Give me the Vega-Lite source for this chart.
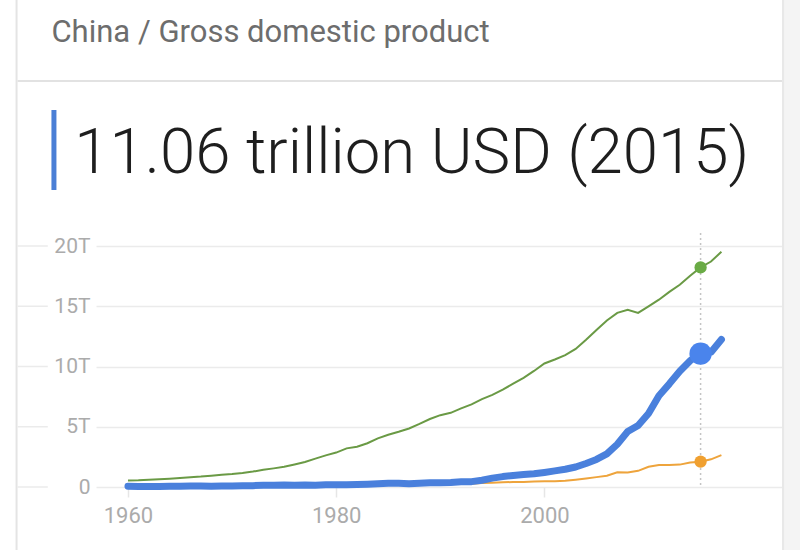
{
  "$schema": "https://vega.github.io/schema/vega-lite/v6.json",
  "width": 686,
  "height": 254,
  "autosize": {"type": "none"},
  "padding": {"left": 96, "top": 233, "right": 18, "bottom": 63},
  "background": "#ffffff",
  "config": {"view": {"stroke": null}, "font": "Roboto"},
  "datasets": {
    "us": [
      {"year":1960,"gdp":0.543},{"year":1961,"gdp":0.563},{"year":1962,"gdp":0.605},{"year":1963,"gdp":0.638},{"year":1964,"gdp":0.686},{"year":1965,"gdp":0.744},{"year":1966,"gdp":0.815},{"year":1967,"gdp":0.862},{"year":1968,"gdp":0.943},{"year":1969,"gdp":1.019},
      {"year":1970,"gdp":1.073},{"year":1971,"gdp":1.165},{"year":1972,"gdp":1.280},{"year":1973,"gdp":1.425},{"year":1974,"gdp":1.545},{"year":1975,"gdp":1.684},{"year":1976,"gdp":1.873},{"year":1977,"gdp":2.082},{"year":1978,"gdp":2.352},{"year":1979,"gdp":2.627},
      {"year":1980,"gdp":2.857},{"year":1981,"gdp":3.207},{"year":1982,"gdp":3.343},{"year":1983,"gdp":3.634},{"year":1984,"gdp":4.037},{"year":1985,"gdp":4.339},{"year":1986,"gdp":4.579},{"year":1987,"gdp":4.855},{"year":1988,"gdp":5.236},{"year":1989,"gdp":5.641},
      {"year":1990,"gdp":5.963},{"year":1991,"gdp":6.158},{"year":1992,"gdp":6.520},{"year":1993,"gdp":6.859},{"year":1994,"gdp":7.287},{"year":1995,"gdp":7.640},{"year":1996,"gdp":8.073},{"year":1997,"gdp":8.578},{"year":1998,"gdp":9.063},{"year":1999,"gdp":9.631},
      {"year":2000,"gdp":10.252},{"year":2001,"gdp":10.582},{"year":2002,"gdp":10.936},{"year":2003,"gdp":11.458},{"year":2004,"gdp":12.214},{"year":2005,"gdp":13.037},{"year":2006,"gdp":13.815},{"year":2007,"gdp":14.452},{"year":2008,"gdp":14.713},{"year":2009,"gdp":14.449},
      {"year":2010,"gdp":14.992},{"year":2011,"gdp":15.543},{"year":2012,"gdp":16.197},{"year":2013,"gdp":16.785},{"year":2014,"gdp":17.527},{"year":2015,"gdp":18.224},{"year":2016,"gdp":18.715},{"year":2017,"gdp":19.519}
    ],
    "china": [
      {"year":1960,"gdp":0.060},{"year":1961,"gdp":0.050},{"year":1962,"gdp":0.047},{"year":1963,"gdp":0.051},{"year":1964,"gdp":0.060},{"year":1965,"gdp":0.070},{"year":1966,"gdp":0.077},{"year":1967,"gdp":0.073},{"year":1968,"gdp":0.071},{"year":1969,"gdp":0.080},
      {"year":1970,"gdp":0.093},{"year":1971,"gdp":0.100},{"year":1972,"gdp":0.114},{"year":1973,"gdp":0.139},{"year":1974,"gdp":0.144},{"year":1975,"gdp":0.163},{"year":1976,"gdp":0.154},{"year":1977,"gdp":0.175},{"year":1978,"gdp":0.150},{"year":1979,"gdp":0.178},
      {"year":1980,"gdp":0.191},{"year":1981,"gdp":0.196},{"year":1982,"gdp":0.205},{"year":1983,"gdp":0.230},{"year":1984,"gdp":0.260},{"year":1985,"gdp":0.309},{"year":1986,"gdp":0.301},{"year":1987,"gdp":0.273},{"year":1988,"gdp":0.312},{"year":1989,"gdp":0.348},
      {"year":1990,"gdp":0.361},{"year":1991,"gdp":0.383},{"year":1992,"gdp":0.427},{"year":1993,"gdp":0.445},{"year":1994,"gdp":0.564},{"year":1995,"gdp":0.735},{"year":1996,"gdp":0.864},{"year":1997,"gdp":0.962},{"year":1998,"gdp":1.029},{"year":1999,"gdp":1.094},
      {"year":2000,"gdp":1.211},{"year":2001,"gdp":1.339},{"year":2002,"gdp":1.471},{"year":2003,"gdp":1.660},{"year":2004,"gdp":1.955},{"year":2005,"gdp":2.286},{"year":2006,"gdp":2.752},{"year":2007,"gdp":3.552},{"year":2008,"gdp":4.598},{"year":2009,"gdp":5.110},
      {"year":2010,"gdp":6.101},{"year":2011,"gdp":7.573},{"year":2012,"gdp":8.561},{"year":2013,"gdp":9.607},{"year":2014,"gdp":10.482},{"year":2015,"gdp":11.065},{"year":2016,"gdp":11.191},{"year":2017,"gdp":12.238}
    ],
    "india": [
      {"year":1960,"gdp":0.037},{"year":1961,"gdp":0.039},{"year":1962,"gdp":0.042},{"year":1963,"gdp":0.048},{"year":1964,"gdp":0.056},{"year":1965,"gdp":0.059},{"year":1966,"gdp":0.045},{"year":1967,"gdp":0.050},{"year":1968,"gdp":0.053},{"year":1969,"gdp":0.058},
      {"year":1970,"gdp":0.062},{"year":1971,"gdp":0.067},{"year":1972,"gdp":0.071},{"year":1973,"gdp":0.085},{"year":1974,"gdp":0.099},{"year":1975,"gdp":0.098},{"year":1976,"gdp":0.102},{"year":1977,"gdp":0.121},{"year":1978,"gdp":0.137},{"year":1979,"gdp":0.152},
      {"year":1980,"gdp":0.186},{"year":1981,"gdp":0.193},{"year":1982,"gdp":0.200},{"year":1983,"gdp":0.218},{"year":1984,"gdp":0.212},{"year":1985,"gdp":0.232},{"year":1986,"gdp":0.248},{"year":1987,"gdp":0.279},{"year":1988,"gdp":0.296},{"year":1989,"gdp":0.296},
      {"year":1990,"gdp":0.321},{"year":1991,"gdp":0.270},{"year":1992,"gdp":0.288},{"year":1993,"gdp":0.279},{"year":1994,"gdp":0.327},{"year":1995,"gdp":0.360},{"year":1996,"gdp":0.393},{"year":1997,"gdp":0.415},{"year":1998,"gdp":0.421},{"year":1999,"gdp":0.458},
      {"year":2000,"gdp":0.468},{"year":2001,"gdp":0.485},{"year":2002,"gdp":0.515},{"year":2003,"gdp":0.608},{"year":2004,"gdp":0.709},{"year":2005,"gdp":0.820},{"year":2006,"gdp":0.940},{"year":2007,"gdp":1.217},{"year":2008,"gdp":1.199},{"year":2009,"gdp":1.342},
      {"year":2010,"gdp":1.676},{"year":2011,"gdp":1.823},{"year":2012,"gdp":1.828},{"year":2013,"gdp":1.857},{"year":2014,"gdp":2.039},{"year":2015,"gdp":2.104},{"year":2016,"gdp":2.295},{"year":2017,"gdp":2.651}
    ],
    "ticks": [{"v":0},{"v":5},{"v":10},{"v":15},{"v":20}]
  },
  "layer": [
    {
      "data": {"values": [{}]},
      "mark": {"type": "rect", "color": "#f4f4f4", "clip": false},
      "encoding": {
        "x": {"datum": 2023.0, "type": "quantitative", "scale": {"domain": [1956.93, 2022.82], "nice": false, "zero": false}, "axis": {"values": [1960, 1980, 2000], "format": "d", "title": null, "grid": false, "domain": false, "ticks": true, "tickSize": 10, "tickColor": "#e6e6e6", "tickWidth": 1.5, "labelFontSize": 22, "labelColor": "#ababab", "labelPadding": 8, "labelFont": "Roboto"}},
        "x2": {"datum": 2024.7},
        "y": {"datum": 40.5, "type": "quantitative", "scale": {"domain": [0, 21.08], "nice": false, "zero": false}, "axis": {"values": [0, 5, 10, 15, 20], "labelExpr": "datum.value == 0 ? '0' : datum.value + 'T'", "title": null, "grid": true, "gridColor": "#ebebeb", "gridWidth": 1.5, "domain": false, "ticks": false, "labelFontSize": 21, "labelColor": "#ababab", "labelPadding": 6, "labelFont": "Roboto"}},
        "y2": {"datum": -5.3}
      }
    },
    {
      "data": {"values": [{}]},
      "mark": {"type": "rule", "color": "#e4e4e4", "strokeWidth": 2, "clip": false},
      "encoding": {"x": {"datum": 1949.3, "type": "quantitative"}, "y": {"datum": 40.5, "type": "quantitative"}, "y2": {"datum": -5.3}}
    },
    {
      "data": {"values": [{}]},
      "mark": {"type": "rule", "color": "#e8e8e8", "strokeWidth": 2, "clip": false},
      "encoding": {"x": {"datum": 2022.92, "type": "quantitative"}, "y": {"datum": 40.5, "type": "quantitative"}, "y2": {"datum": -5.3}}
    },
    {
      "data": {"values": [{}]},
      "mark": {"type": "rule", "color": "#e2e2e2", "strokeWidth": 2, "clip": false},
      "encoding": {"x": {"datum": 1949.4, "type": "quantitative"}, "x2": {"datum": 2022.82}, "y": {"datum": 33.69, "type": "quantitative"}}
    },
    {
      "data": {"values": [{}]},
      "mark": {"type": "text", "text": "China / Gross domestic product", "align": "left", "baseline": "alphabetic", "fontSize": 31, "color": "#6d6d6d", "font": "Roboto", "clip": false},
      "encoding": {"x": {"datum": 1952.65, "type": "quantitative"}, "y": {"datum": 36.93, "type": "quantitative"}}
    },
    {
      "data": {"values": [{}]},
      "mark": {"type": "rule", "color": "#4a7fd6", "strokeWidth": 5, "clip": false},
      "encoding": {"x": {"datum": 1952.89, "type": "quantitative"}, "y": {"datum": 31.29, "type": "quantitative"}, "y2": {"datum": 24.65}}
    },
    {
      "data": {"values": [{}]},
      "mark": {"type": "text", "text": "11.06 trillion USD (2015)", "align": "left", "baseline": "alphabetic", "fontSize": 63.5, "fontWeight": 300, "color": "#1e1e1e", "font": "Roboto", "clip": false},
      "encoding": {"x": {"datum": 1954.85, "type": "quantitative"}, "y": {"datum": 26.06, "type": "quantitative"}}
    },
    {
      "data": {"name": "ticks"},
      "mark": {"type": "rule", "color": "#ebebeb", "strokeWidth": 1.5, "clip": false},
      "encoding": {"x": {"datum": 1949.4, "type": "quantitative"}, "x2": {"datum": 1952.3}, "y": {"field": "v", "type": "quantitative"}}
    },
    {
      "data": {"values": [{}]},
      "mark": {"type": "rule", "color": "#c4c4c4", "strokeWidth": 1.5, "strokeDash": [2, 3]},
      "encoding": {"x": {"datum": 2015, "type": "quantitative"}}
    },
    {
      "data": {"name": "us"},
      "mark": {"type": "line", "color": "#6a9a45", "strokeWidth": 2},
      "encoding": {"x": {"field": "year", "type": "quantitative"}, "y": {"field": "gdp", "type": "quantitative"}}
    },
    {
      "data": {"name": "india"},
      "mark": {"type": "line", "color": "#eea43c", "strokeWidth": 2},
      "encoding": {"x": {"field": "year", "type": "quantitative"}, "y": {"field": "gdp", "type": "quantitative"}}
    },
    {
      "data": {"name": "china"},
      "mark": {"type": "line", "color": "#4a80dc", "strokeWidth": 7, "strokeCap": "round", "strokeJoin": "round"},
      "encoding": {"x": {"field": "year", "type": "quantitative"}, "y": {"field": "gdp", "type": "quantitative"}}
    },
    {
      "data": {"name": "us"},
      "transform": [{"filter": "datum.year == 2015"}],
      "mark": {"type": "circle", "color": "#6aab45", "opacity": 1, "size": 150},
      "encoding": {"x": {"field": "year", "type": "quantitative"}, "y": {"field": "gdp", "type": "quantitative"}}
    },
    {
      "data": {"name": "india"},
      "transform": [{"filter": "datum.year == 2015"}],
      "mark": {"type": "circle", "color": "#f0a030", "opacity": 1, "size": 150},
      "encoding": {"x": {"field": "year", "type": "quantitative"}, "y": {"field": "gdp", "type": "quantitative"}}
    },
    {
      "data": {"name": "china"},
      "transform": [{"filter": "datum.year == 2015"}],
      "mark": {"type": "circle", "color": "#4a84ec", "opacity": 1, "size": 500},
      "encoding": {"x": {"field": "year", "type": "quantitative"}, "y": {"field": "gdp", "type": "quantitative"}}
    }
  ]
}
